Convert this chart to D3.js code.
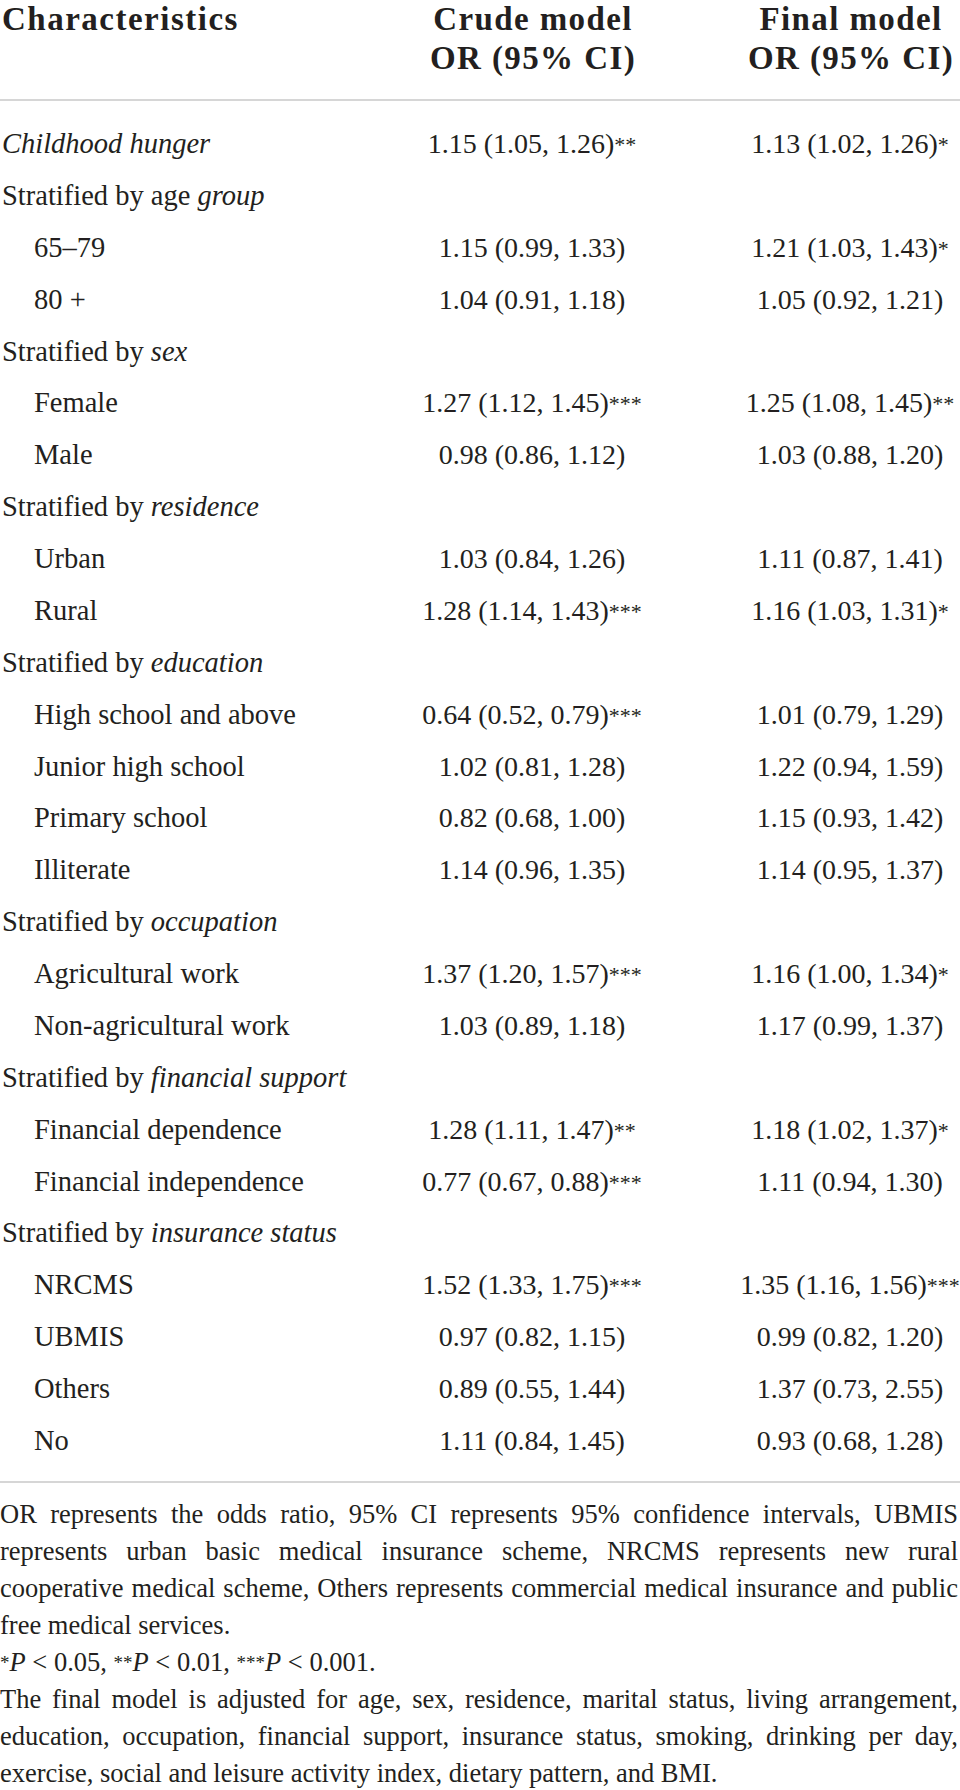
<!DOCTYPE html>
<html>
<head>
<meta charset="utf-8">
<script src="https://cdn.jsdelivr.net/npm/d3@7"></script>
<style>
  body { margin: 0; background: #fff; }
  text { font-family: "Liberation Serif", "Times New Roman", serif; fill: #231f20; }
</style>
</head>
<body>
<svg id="tbl"></svg>
<script>
// row labels: upright part + italic part, and indent level
const labelPlain = ["", "Stratified by age ", "65\u201379", "80 +", "Stratified by ", "Female", "Male",
  "Stratified by ", "Urban", "Rural", "Stratified by ", "High school and above", "Junior high school",
  "Primary school", "Illiterate", "Stratified by ", "Agricultural work", "Non-agricultural work",
  "Stratified by ", "Financial dependence", "Financial independence", "Stratified by ", "NRCMS",
  "UBMIS", "Others", "No"];
const labelItalic = ["Childhood hunger", "group", "", "", "sex", "", "", "residence", "", "", "education",
  "", "", "", "", "occupation", "", "", "financial support", "", "", "insurance status", "", "", "", ""];
const rowLevel = [0,0,1,1,0,1,1,0,1,1,0,1,1,1,1,0,1,1,0,1,1,0,1,1,1,1];

// crude model
const crudeOR = [1.15,null,1.15,1.04,null,1.27,0.98,null,1.03,1.28,null,0.64,1.02,0.82,1.14,null,1.37,1.03,null,1.28,0.77,null,1.52,0.97,0.89,1.11];
const crudeLo = [1.05,null,0.99,0.91,null,1.12,0.86,null,0.84,1.14,null,0.52,0.81,0.68,0.96,null,1.20,0.89,null,1.11,0.67,null,1.33,0.82,0.55,0.84];
const crudeHi = [1.26,null,1.33,1.18,null,1.45,1.12,null,1.26,1.43,null,0.79,1.28,1.00,1.35,null,1.57,1.18,null,1.47,0.88,null,1.75,1.15,1.44,1.45];
const crudeSig = ["**","","","","","***","","","","***","","***","","","","","***","","","**","***","","***","","",""];

// final model
const finalOR = [1.13,null,1.21,1.05,null,1.25,1.03,null,1.11,1.16,null,1.01,1.22,1.15,1.14,null,1.16,1.17,null,1.18,1.11,null,1.35,0.99,1.37,0.93];
const finalLo = [1.02,null,1.03,0.92,null,1.08,0.88,null,0.87,1.03,null,0.79,0.94,0.93,0.95,null,1.00,0.99,null,1.02,0.94,null,1.16,0.82,0.73,0.68];
const finalHi = [1.26,null,1.43,1.21,null,1.45,1.20,null,1.41,1.31,null,1.29,1.59,1.42,1.37,null,1.34,1.37,null,1.37,1.30,null,1.56,1.20,2.55,1.28];
const finalSig = ["*","","*","","","**","","","","*","","","","","","","*","","","*","","","***","","",""];

const headers = ["Characteristics", ["Crude model", "OR (95% CI)"], ["Final model", "OR (95% CI)"]];

const note1 = [
  "OR represents the odds ratio, 95% CI represents 95% confidence intervals, UBMIS",
  "represents urban basic medical insurance scheme, NRCMS represents new rural",
  "cooperative medical scheme, Others represents commercial medical insurance and public",
  "free medical services."
];
const note3 = [
  "The final model is adjusted for age, sex, residence, marital status, living arrangement,",
  "education, occupation, financial support, insurance status, smoking, drinking per day,",
  "exercise, social and leisure activity index, dietary pattern, and BMI."
];

const width = 960, height = 1790;
const svg = d3.select("#tbl").attr("width", width).attr("height", height);

const fmt = d3.format(".2f");
const rows = d3.range(labelPlain.length);

// row positions (baselines) and column centres
const y = d3.scalePoint().domain(rows).range([153, 1450]);
const x = d3.scaleOrdinal().domain(["label", "crude", "final"]).range([2, 532, 850]);

function draw() {
  // header
  svg.append("text")
    .attr("x", x("label")).attr("y", 30)
    .attr("font-size", 33).attr("font-weight", "bold")
    .attr("letter-spacing", 1.5)
    .text(headers[0]);
  [["crude", headers[1]], ["final", headers[2]]].forEach(function(h) {
    h[1].forEach(function(t, i) {
      svg.append("text")
        .attr("x", x(h[0]) + 1).attr("y", 30 + i * 39)
        .attr("text-anchor", "middle")
        .attr("font-size", 33).attr("font-weight", "bold")
        .attr("letter-spacing", 1.4)
        .text(t);
    });
  });

  // rules
  [100, 1482].forEach(function(ry) {
    svg.append("line")
      .attr("x1", 0).attr("x2", width).attr("y1", ry).attr("y2", ry)
      .attr("stroke", "#c8c8c8").attr("stroke-width", 1.6);
  });

  // labels
  const lab = svg.selectAll(".rowlab")
    .data(rows)
    .enter()
    .append("text")
    .attr("class", "rowlab")
    .attr("x", function(d) { return x("label") + (rowLevel[d] ? 32 : 0); })
    .attr("y", function(d) { return y(d); })
    .attr("font-size", 28.5);
  lab.append("tspan").text(function(d) { return labelPlain[d]; });
  lab.append("tspan").attr("font-style", "italic").text(function(d) { return labelItalic[d]; });

  // value cells
  function cells(col, or, lo, hi, sig) {
    const c = svg.selectAll(".cell-" + col)
      .data(rows.filter(function(d) { return or[d] != null; }))
      .enter()
      .append("text")
      .attr("class", "cell-" + col)
      .attr("x", x(col))
      .attr("y", function(d) { return y(d); })
      .attr("text-anchor", "middle")
      .attr("font-size", 28);
    c.append("tspan").text(function(d) {
      return fmt(or[d]) + " (" + fmt(lo[d]) + ", " + fmt(hi[d]) + ")";
    });
    c.append("tspan").attr("font-size", 22).attr("dy", -1).text(function(d) { return sig[d]; });
  }
  cells("crude", crudeOR, crudeLo, crudeHi, crudeSig);
  cells("final", finalOR, finalLo, finalHi, finalSig);

  // justified footnote lines
  const fs = 26.5, left = 0, right = 958;
  function line(str, by, justify) {
    if (!justify) {
      svg.append("text").attr("x", left).attr("y", by).attr("font-size", fs).text(str);
      return;
    }
    const words = str.split(" ");
    const g = svg.append("g");
    const nodes = words.map(function(w) {
      return g.append("text").attr("y", by).attr("font-size", fs).text(w);
    });
    const widths = nodes.map(function(n) { return n.node().getComputedTextLength(); });
    const total = d3.sum(widths);
    const gap = (right - left - total) / (words.length - 1);
    if (gap < 3) {
      g.remove();
      svg.append("text").attr("x", left).attr("y", by).attr("font-size", fs)
        .attr("textLength", right - left).attr("lengthAdjust", "spacingAndGlyphs")
        .text(str);
      return;
    }
    let cx = left;
    nodes.forEach(function(n, i) {
      n.attr("x", cx);
      cx += widths[i] + gap;
    });
  }
  note1.forEach(function(s, i) { line(s, 1523 + i * 36.9, i < note1.length - 1); });

  const p = svg.append("text").attr("x", left).attr("y", 1671).attr("font-size", fs);
  [["*", "sup"], ["P", "it"], [" < 0.05, ", ""], ["**", "sup"], ["P", "it"], [" < 0.01, ", ""],
   ["***", "sup"], ["P", "it"], [" < 0.001.", ""]].forEach(function(s) {
    const t = p.append("tspan").text(s[0]);
    if (s[1] === "sup") t.attr("font-size", 19).attr("dy", -2);
    else if (s[1] === "it") t.attr("font-style", "italic").attr("dy", 2);
  });

  note3.forEach(function(s, i) { line(s, 1708 + i * 36.9, i < note3.length - 1); });
}

if (document.fonts && document.fonts.ready) document.fonts.ready.then(draw); else draw();
</script>
</body>
</html>
